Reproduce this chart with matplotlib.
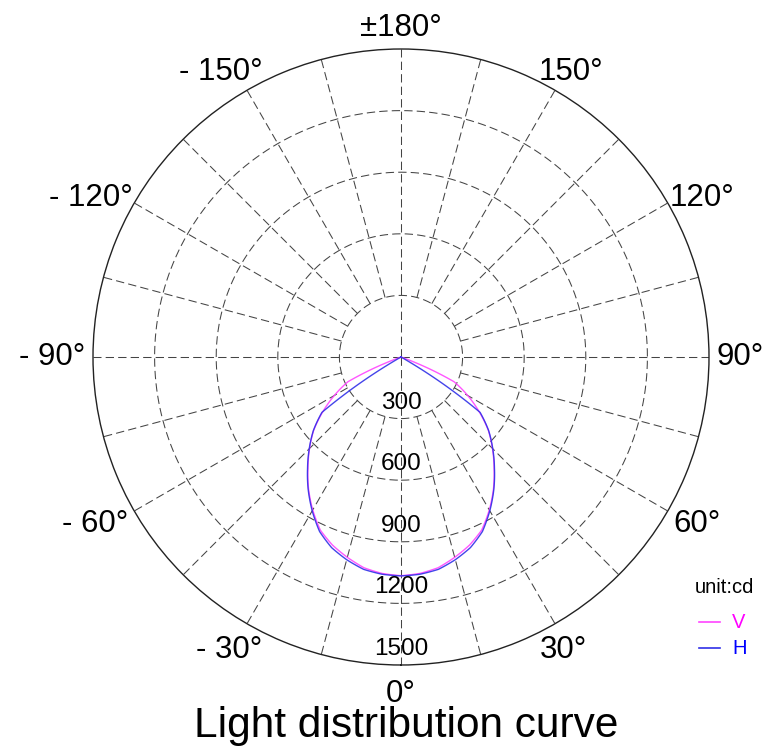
import numpy as np
import matplotlib
matplotlib.use("Agg")
import matplotlib.pyplot as plt
import matplotlib.transforms as mtransforms
from matplotlib.lines import Line2D

plt.rcParams['font.family'] = ['Liberation Sans', 'DejaVu Sans']

# luminous intensity (cd) per angle, -90..90 deg in 5 deg steps
angles = list(range(-90, 95, 5))
V = [0, 0, 0, 0, 0, 285, 375, 465, 555, 630, 705, 785, 860, 930, 975, 1010, 1042, 1058, 1065,
     1058, 1042, 1010, 975, 930, 860, 785, 705, 630, 555, 465, 375, 285, 0, 0, 0, 0, 0]
H = [0, 0, 0, 0, 0, 0, 0, 470, 557, 632, 708, 788, 865, 938, 988, 1022, 1050, 1062, 1066,
     1062, 1050, 1022, 988, 938, 865, 788, 708, 632, 557, 470, 0, 0, 0, 0, 0, 0, 0]
series = [('V', V, '#ff44ff', '#ff00ff'), ('H', H, '#3030e8', '#0000ff')]

ring_values = [300, 600, 900, 1200, 1500]
spoke_angles = list(range(0, 360, 15))
tick_angles = [0, 30, 60, 90, 120, 150, 180, -150, -120, -90, -60, -30]
tick_labels = ['0°', '30°', '60°', '90°', '120°', '150°', '±180°',
               '- 150°', '- 120°', '- 90°', '- 60°', '- 30°']

W, Hpx = 768, 753
fig = plt.figure(figsize=(W / 100, Hpx / 100), dpi=100)

# centre (401, 357) px, radius 308 px
cx, cy, R = 401, 357, 308
ax = fig.add_axes([(cx - R) / W, 1 - (cy + R) / Hpx, 2 * R / W, 2 * R / Hpx], projection='polar')
ax.set_theta_zero_location('S')
ax.set_theta_direction(1)
ax.set_ylim(0, ring_values[-1])
ax.set_xticks([])
ax.set_yticks([])
ax.grid(False)
ax.spines['polar'].set_color('#222222')
ax.spines['polar'].set_linewidth(1.0)

grid_kw = dict(color='#444444', lw=0.75, linestyle=(0, (8, 4)), zorder=1)

# rings
t_fine = np.linspace(0, 2 * np.pi, 721)
for r in ring_values[:-1]:
    ax.plot(t_fine, np.full_like(t_fine, r), **grid_kw)

# spokes, main axes through the centre
for a in spoke_angles:
    r0 = 0 if a % 90 == 0 else ring_values[0]
    ax.plot([np.radians(a)] * 2, [r0, ring_values[-1]], **grid_kw)

# curves (drawn as polar arcs between the read points)
for name, vals, lc, tc in series:
    line, = ax.plot(np.radians(angles), vals, color=lc, lw=1.0, zorder=3, alpha=0.9)
    line.get_path()._interpolation_steps = 20

# radial labels just inside each ring
lab_tr = mtransforms.offset_copy(ax.transData, fig=fig, x=0, y=16, units='dots')
for r in ring_values:
    ax.text(0, r, str(r), transform=lab_tr, ha='center', va='center', fontsize=17.5, zorder=4)

# angle labels: (ha, dy, dx) in pixels for |angle|
anchors = {0: ('center', -37, 0), 30: ('left', -34, -15), 60: ('left', -21, 6),
           90: ('left', -8, 8), 120: ('left', -3, 2), 150: ('left', 10, -16),
           180: ('center', 13, 0)}
for a, lab in zip(tick_angles, tick_labels):
    ha, dy, dx = anchors[abs(a)]
    if a < 0:
        ha = 'right'
        dx = -dx
    tr = mtransforms.offset_copy(ax.transData, fig=fig, x=dx, y=dy, units='dots')
    ax.text(np.radians(a), ring_values[-1], lab, transform=tr, ha=ha, va='baseline',
            fontsize=22.5, clip_on=False)

# unit note and key
fig.text(695 / W, 1 - 593 / Hpx, 'unit:cd', fontsize=14.5, va='baseline')
for i, (name, vals, lc, tc) in enumerate(series):
    y = 622 + 26 * i
    fig.add_artist(Line2D([699 / W, 720 / W], [1 - y / Hpx] * 2, color=lc, lw=1.2,
                          transform=fig.transFigure))
    fig.text(732 / W, 1 - (y + 6) / Hpx, name, color=tc, fontsize=14.5, va='baseline')

fig.text(406.5 / W, 1 - 737 / Hpx, 'Light distribution curve', ha='center', va='baseline',
         fontsize=30.5)

fig.savefig('out.png', dpi=100)
